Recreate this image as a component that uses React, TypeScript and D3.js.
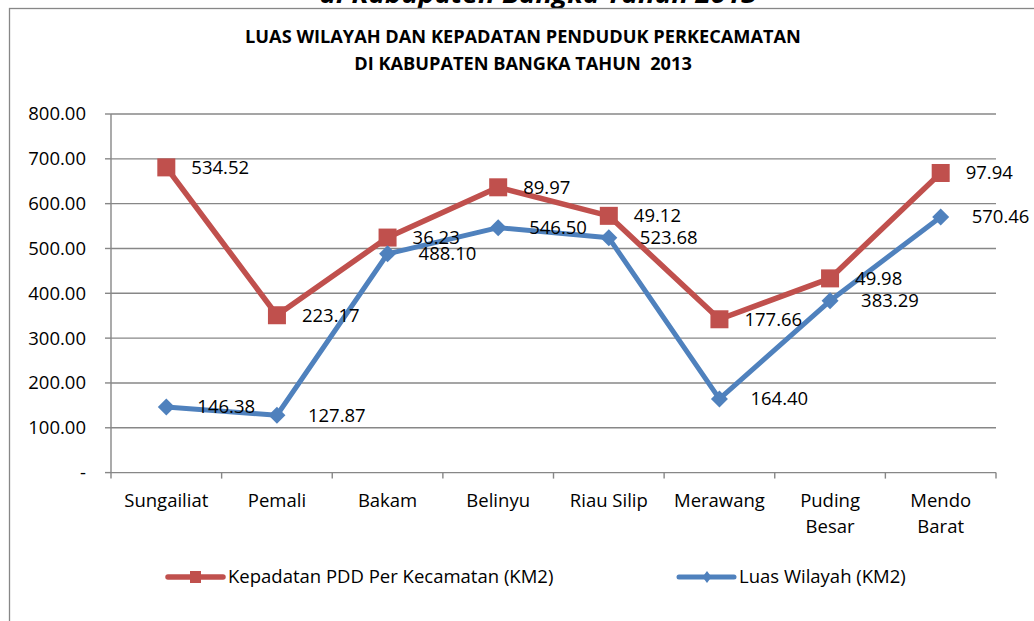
import React from "react";
import * as d3 from "d3";

const categories: string[][] = [
  ["Sungailiat"],
  ["Pemali"],
  ["Bakam"],
  ["Belinyu"],
  ["Riau Silip"],
  ["Merawang"],
  ["Puding", "Besar"],
  ["Mendo", "Barat"],
];
const luasWilayah: number[] = [146.38, 127.87, 488.1, 546.5, 523.68, 164.4, 383.29, 570.46];
const kepadatan: number[] = [534.52, 223.17, 36.23, 89.97, 49.12, 177.66, 49.98, 97.94];
const yTicks: number[] = [0, 100, 200, 300, 400, 500, 600, 700, 800];
const titleLines: string[] = [
  "LUAS WILAYAH DAN KEPADATAN PENDUDUK PERKECAMATAN",
  "DI KABUPATEN BANGKA TAHUN  2013",
];
const clippedHeading = "di Kabupaten Bangka Tahun 2013";
const legendLabels = ["Kepadatan PDD Per Kecamatan (KM2)", "Luas Wilayah (KM2)"];

const RED = "#C0504D";
const BLUE = "#4F81BD";
const GRID = "#878787";
const FONT = "'Open Sans', sans-serif";

export default function App() {
  const W = 1034;
  const H = 621;
  const left = 111;
  const right = 996;
  const top = 114;
  const bottom = 472.6;

  const keys = categories.map((c) => c.join(" "));
  const table = keys.map((k, i) => ({ key: k, luas: luasWilayah[i], kep: kepadatan[i] }));
  const stacked = d3.stack<any>().keys(["luas", "kep"])(table);

  const x = d3.scaleBand<string>().domain(keys).range([left, right]);
  const cx = (k: string) => (x(k) as number) + x.bandwidth() / 2;
  const y = d3.scaleLinear().domain([0, 800]).range([bottom, top]);

  const line = d3
    .line<any>()
    .x((d) => cx(d.data.key))
    .y((d) => y(d[1]));

  const blue = stacked[0];
  const red = stacked[1];
  const fmt = d3.format(".2f");

  const diamond = (px: number, py: number, rx: number, ry: number) =>
    `M${px},${py - ry}L${px + rx},${py}L${px},${py + ry}L${px - rx},${py}Z`;

  return (
    <svg
      width={W}
      height={H}
      style={{ position: "absolute", left: 0, top: 0, background: "#fff" }}
      fontFamily={FONT}
    >
      <text
        x={538}
        y={3}
        textAnchor="middle"
        fontSize={25}
        fontWeight="bold"
        fontStyle="italic"
        fill="#000"
        textLength={437}
        lengthAdjust="spacingAndGlyphs"
      >
        {clippedHeading}
      </text>
      <rect x={9.5} y={8.5} width={1100} height={700} fill="#fff" stroke={GRID} strokeWidth={1.3} />

      {titleLines.map((t, i) => (
        <text
          key={i}
          x={523}
          y={43 + i * 27}
          textAnchor="middle"
          fontSize={18.2}
          fontWeight="bold"
          fill="#000"
          style={{ whiteSpace: "pre" }}
          xmlSpace="preserve"
        >
          {t}
        </text>
      ))}

      {/* gridlines */}
      {yTicks.map((t) => (
        <g key={t}>
          {t > 0 && (
            <line x1={left} x2={right} y1={y(t)} y2={y(t)} stroke={GRID} strokeWidth={1.4} />
          )}
          <line x1={left - 6} x2={left} y1={y(t)} y2={y(t)} stroke={GRID} strokeWidth={1.4} />
          <text
            x={86}
            y={y(t)}
            dy="0.35em"
            textAnchor="end"
            fontSize={18.5}
            fill="#000"
          >
            {t === 0 ? "-" : fmt(t)}
          </text>
        </g>
      ))}

      {/* axes */}
      <line x1={left} x2={left} y1={top} y2={bottom} stroke={GRID} strokeWidth={1.4} />
      <line x1={left} x2={right} y1={bottom} y2={bottom} stroke={GRID} strokeWidth={1.4} />
      {[...keys.map((k) => x(k) as number), right].map((px, i) => (
        <line key={i} x1={px} x2={px} y1={bottom} y2={bottom + 6} stroke={GRID} strokeWidth={1.4} />
      ))}

      {/* category labels */}
      {categories.map((c, i) => (
        <text key={i} x={cx(keys[i])} y={507} textAnchor="middle" fontSize={18.5} fill="#000">
          {c.map((ln, j) => (
            <tspan key={j} x={cx(keys[i])} dy={j === 0 ? 0 : 26}>
              {ln}
            </tspan>
          ))}
        </text>
      ))}

      {/* lines */}
      <path d={line(red as any) || ""} fill="none" stroke={RED} strokeWidth={5.5} strokeLinejoin="round" />
      <path d={line(blue as any) || ""} fill="none" stroke={BLUE} strokeWidth={5} strokeLinejoin="round" />

      {/* markers */}
      {red.map((d: any, i: number) => (
        <rect
          key={"r" + i}
          x={cx(d.data.key) - 9}
          y={y(d[1]) - 9}
          width={18}
          height={18}
          fill={RED}
        />
      ))}
      {blue.map((d: any, i: number) => (
        <path key={"b" + i} d={diamond(cx(d.data.key), y(d[1]), 8.5, 8.5)} fill={BLUE} />
      ))}

      {/* data labels */}
      {red.map((d: any, i: number) => (
        <text
          key={"rl" + i}
          x={cx(d.data.key) + 25}
          y={y(d[1])}
          dy="0.35em"
          fontSize={18.5}
          fill="#000"
        >
          {fmt(kepadatan[i])}
        </text>
      ))}
      {blue.map((d: any, i: number) => (
        <text
          key={"bl" + i}
          x={cx(d.data.key) + 31}
          y={y(d[1])}
          dy="0.35em"
          fontSize={18.5}
          fill="#000"
        >
          {fmt(luasWilayah[i])}
        </text>
      ))}

      {/* legend */}
      <g>
        <line x1={168} x2={223} y1={577} y2={577} stroke={RED} strokeWidth={5.5} strokeLinecap="round" />
        <rect x={190} y={571} width={11} height={12} fill={RED} />
        <text x={228} y={577} dy="0.35em" fontSize={18.5} fill="#000">
          {legendLabels[0]}
        </text>
        <line x1={679} x2={734} y1={577} y2={577} stroke={BLUE} strokeWidth={5} strokeLinecap="round" />
        <path d={diamond(707, 577, 4.5, 6)} fill={BLUE} />
        <text x={739} y={577} dy="0.35em" fontSize={18.5} fill="#000">
          {legendLabels[1]}
        </text>
      </g>
    </svg>
  );
}
